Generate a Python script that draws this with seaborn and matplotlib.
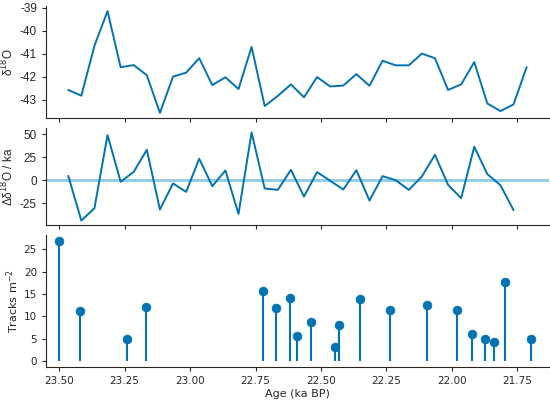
import numpy as np
import pandas as pd
import matplotlib
matplotlib.use("Agg")
import matplotlib.pyplot as plt
import seaborn as sns

# isotope record, evenly sampled ages (ka BP)
ages = [23.465, 23.415, 23.365, 23.315, 23.265, 23.215, 23.165, 23.115, 23.065,
        23.015, 22.965, 22.915, 22.865, 22.815, 22.765, 22.715, 22.665, 22.615,
        22.565, 22.515, 22.465, 22.415, 22.365, 22.315, 22.265, 22.215, 22.165,
        22.115, 22.065, 22.015, 21.965, 21.915, 21.865, 21.815, 21.765, 21.715]
d18o = [-42.58, -42.83, -40.66, -39.15, -41.59, -41.50, -41.94, -43.58, -42.00,
        -41.83, -41.20, -42.37, -42.03, -42.54, -40.71, -43.28, -42.84, -42.34,
        -42.90, -42.02, -42.43, -42.39, -41.89, -42.40, -41.31, -41.51, -41.51,
        -41.00, -41.20, -42.58, -42.34, -41.37, -43.17, -43.50, -43.21, -41.59]
# rate of change, one value per interval
d_rate = [4.7, -44.2, -30.7, 49.3, -1.8, 9.1, 33.2, -32.1, -3.6, -12.8, 23.4,
          -6.6, 10.6, -36.9, 52.2, -9.1, -10.6, 11.3, -17.9, 8.8, -0.7, -10.2,
          10.9, -22.3, 4.4, 0.0, -10.6, 4.0, 27.7, -5.1, -19.7, 36.5, 6.6,
          -5.5, -32.8]

# track counts
track_age = [23.50, 23.42, 23.24, 23.17, 22.72, 22.673, 22.62, 22.59, 22.54,
             22.445, 22.43, 22.35, 22.235, 22.094, 21.98, 21.925, 21.874,
             21.84, 21.797, 21.70]
tracks = [26.9, 11.1, 5.0, 12.2, 15.7, 11.8, 14.2, 5.6, 8.8, 3.2, 8.0, 14.0,
          11.5, 12.5, 11.5, 6.0, 5.0, 4.35, 17.6, 5.0]

sns.set_style("ticks")
plt.rcParams["axes.unicode_minus"] = False
col = "#0173b2"
zero_col = "#8ecbe4"
arial = "Liberation Sans"

df1 = pd.DataFrame({"age": ages, "d18o": d18o})
df2 = pd.DataFrame({"age": ages[:-1], "rate": d_rate})
df3 = pd.DataFrame({"age": track_age, "tracks": tracks})

fig = plt.figure(figsize=(5.5, 4), dpi=100)
ax1 = fig.add_axes([0.0836, 0.705, 0.9144, 0.28])
ax2 = fig.add_axes([0.0836, 0.4375, 0.9144, 0.2425], sharex=ax1)
ax3 = fig.add_axes([0.0836, 0.0825, 0.9144, 0.33], sharex=ax1)

sns.lineplot(data=df1, x="age", y="d18o", ax=ax1, color=col, lw=1.4)
ax1.set_yticks([-39, -40, -41, -42, -43])
ax1.set_ylabel("δ$^{18}$O", fontsize=8.5, fontfamily=arial)

ax2.axhline(0, color=zero_col, lw=2, zorder=1)
sns.lineplot(data=df2, x="age", y="rate", ax=ax2, color=col, lw=1.4, zorder=2)
ax2.set_yticks([-25, 0, 25, 50])
ax2.set_ylabel("Δδ$^{18}$O / ka", fontsize=8.5, fontfamily=arial)

ax3.vlines(df3["age"], 0, df3["tracks"], color=col, lw=1.5)
sns.scatterplot(data=df3, x="age", y="tracks", ax=ax3, color=col, s=40,
                edgecolor=col, zorder=3)
ax3.set_ylim(-1.35, 28.25)
ax3.set_yticks([0, 5, 10, 15, 20, 25])
ax3.set_ylabel("Tracks m$^{-2}$", fontsize=8)
ax3.set_xlabel("Age (ka BP)", fontsize=8, labelpad=2)

for ax in (ax1, ax2):
    ax.set_xlabel("")
    ax.tick_params(labelbottom=False, length=3)
    for t in ax.get_yticklabels():
        t.set_fontfamily(arial)
        t.set_fontsize(8.5)
ax3.tick_params(labelsize=7.5, length=3)

ax1.set_xlim(23.55, 21.63)
ax1.yaxis.set_label_coords(-0.06, 0.5)
ax2.yaxis.set_label_coords(-0.06, 0.5)
ax3.yaxis.set_label_coords(-0.049, 0.5)
sns.despine(fig=fig)

fig.savefig("out.png", dpi=100)
